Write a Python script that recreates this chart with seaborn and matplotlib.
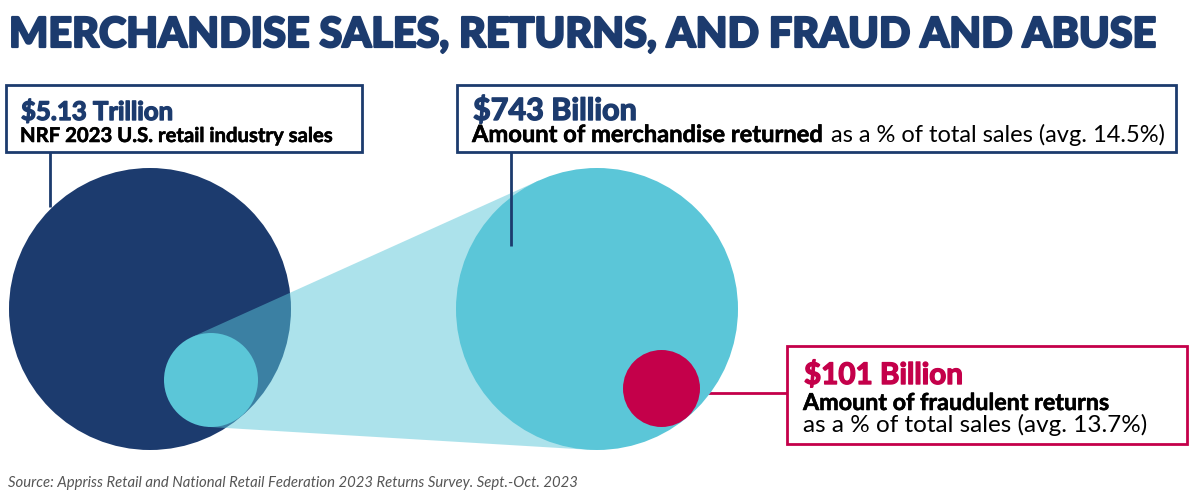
import matplotlib
matplotlib.use("Agg")
import matplotlib.pyplot as plt
import matplotlib.patheffects as pe
from matplotlib.patches import Circle, Polygon, Rectangle
import numpy as np
import seaborn as sns

# ---- data ----
title = "MERCHANDISE SALES, RETURNS, AND FRAUD AND ABUSE"
amounts = ["$5.13 Trillion", "$743 Billion", "$101 Billion"]
values_billion = [5130, 743, 101]
desc_bold = ["NRF 2023 U.S. retail industry sales",
             "Amount of merchandise returned",
             "Amount of fraudulent returns"]
desc_regular = ["",
                " as a % of total sales (avg. 14.5%)",
                "as a % of total sales (avg. 13.7%)"]
source = "Source: Appriss Retail and National Retail Federation 2023 Returns Survey. Sept.-Oct. 2023"

# ---- style ----
NAVY = "#1C3B6E"
CYAN = "#5BC6D8"
RED = "#C4004A"
sns.set_theme(style="white")
plt.rcParams['font.family'] = ['Lato', 'DejaVu Sans']

fig = plt.figure(figsize=(12, 4.95), dpi=100)
ax = fig.add_axes([0, 0, 1, 1])
ax.set_xlim(0, 1200)
ax.set_ylim(495, 0)
ax.axis('off')
renderer = fig.canvas.get_renderer()


def heavy(color, w):
    return [pe.withStroke(linewidth=w, foreground=color)]


def fit(x, y, s, width, size, **kw):
    t = ax.text(x, y, s, fontsize=size, va='baseline', ha='left', **kw)
    w = t.get_window_extent(renderer).width
    t.set_fontsize(size * width / w)
    return t


# ---- circles (layout) ----
big_navy = (150, 309, 141)
small_cyan = (211, 380, 47)
big_cyan = (597, 309, 141)
red_c = (661.5, 388.5, 38.5)

ax.add_patch(Circle(big_navy[:2], big_navy[2], color=NAVY, lw=0, zorder=1))
ax.add_patch(Circle(small_cyan[:2], small_cyan[2], color=CYAN, lw=0, zorder=2))

# external tangents between small cyan and big cyan -> funnel
A = np.array(small_cyan[:2], float); rA = small_cyan[2]
B = np.array(big_cyan[:2], float); rB = big_cyan[2]
d = B - A
dist = np.hypot(*d)
ang_u = np.arctan2(d[1], d[0])
phi = np.arccos((rA - rB) / dist)
pts = []
for sgn in (-1, 1):
    a = ang_u + sgn * phi
    n = np.array([np.cos(a), np.sin(a)])
    pts.append((A + rA * n, B + rB * n))
poly = [pts[0][0], pts[0][1], pts[1][1], pts[1][0]]
ax.add_patch(Polygon(poly, closed=True, color=CYAN, alpha=0.5, lw=0, zorder=3))
ax.add_patch(Circle(big_cyan[:2], big_cyan[2], color=CYAN, lw=0, zorder=4))
ax.add_patch(Circle(red_c[:2], red_c[2], color=RED, lw=0, zorder=5))

# ---- connectors ----
ax.plot([50, 50], [152, 207], color=NAVY, lw=2, zorder=6, solid_capstyle='butt')
ax.plot([511, 511], [152, 246], color=NAVY, lw=2, zorder=6, solid_capstyle='butt')
ax.plot([700, 787], [393, 393], color=RED, lw=2, zorder=3, solid_capstyle='butt')

# ---- boxes ----
ax.add_patch(Rectangle((6, 85), 356, 67, fill=False, ec=NAVY, lw=2, zorder=6))
ax.add_patch(Rectangle((457, 85), 719, 67, fill=False, ec=NAVY, lw=2, zorder=6))
ax.add_patch(Rectangle((787, 346), 400, 98, fill=False, ec=RED, lw=2, zorder=6))

# ---- title ----
fit(9, 47, title, 1145, 29, color=NAVY, fontweight='black',
    path_effects=heavy(NAVY, 1.6))

# ---- box 1 text ----
fit(21, 120, amounts[0], 152, 21, color=NAVY, fontweight='bold',
    path_effects=heavy(NAVY, 1.0))
fit(20, 142, desc_bold[0], 315, 14, color='black', fontweight='bold',
    path_effects=heavy('black', 0.4))

# ---- box 2 text ----
fit(473, 120, amounts[1], 164, 21, color=NAVY, fontweight='bold',
    path_effects=heavy(NAVY, 1.0))
tb = ax.text(472, 142, desc_bold[1], fontsize=14, va='baseline', color='black',
             fontweight='bold', path_effects=heavy('black', 0.4))
wb = tb.get_window_extent(renderer).width
tr = ax.text(472 + wb, 142, desc_regular[1], fontsize=14, va='baseline', color='black')
wr = tr.get_window_extent(renderer).width
scale = 696 / (wb + wr)
tb.set_fontsize(14 * scale)
tr.set_fontsize(14 * scale)
tr.set_x(472 + wb * scale)

# ---- box 3 text ----
fit(804, 384, amounts[2], 159, 21, color=RED, fontweight='bold',
    path_effects=heavy(RED, 1.0))
fit(803, 410, desc_bold[2], 309, 14, color='black', fontweight='bold',
    path_effects=heavy('black', 0.4))
fit(803, 432, desc_regular[2], 344, 14, color='black')

# ---- source ----
fit(8, 487, source, 572, 10, color='#555555', style='italic')

fig.savefig("out.png", dpi=100)
